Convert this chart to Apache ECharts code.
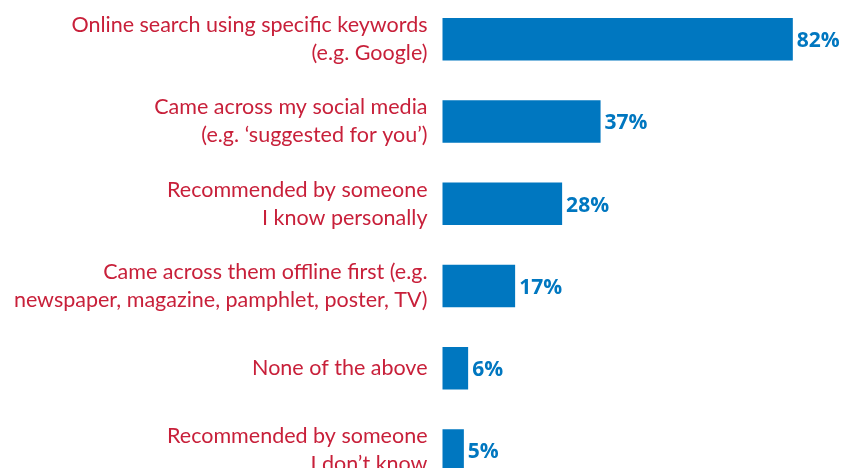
<!DOCTYPE html>
<html>
<head>
<meta charset="utf-8">
<script src="https://cdn.jsdelivr.net/npm/echarts@6/dist/echarts.min.js"></script>
<style>
  html, body { margin: 0; padding: 0; background: #ffffff; }
  #chart { width: 843px; height: 468px; }
</style>
</head>
<body>
<div id="chart"></div>
<script>
// How people found them: share of respondents per source (%)
const categories = [
  'Online search using specific keywords\n(e.g. Google)',
  'Came across my social media\n(e.g. \u2018suggested for you\u2019)',
  'Recommended by someone\nI know personally',
  'Came across them offline first (e.g.\nnewspaper, magazine, pamphlet, poster, TV)',
  'None of the above',
  'Recommended by someone\nI don\u2019t know'
];
const shares = [82, 37, 28, 17, 6, 5];

const chart = echarts.init(document.getElementById('chart'), null, { renderer: 'canvas' });

chart.setOption({
  animation: false,
  backgroundColor: '#ffffff',
  grid: {
    left: 442.5, right: 16, top: -2, bottom: -23.5,
    containLabel: false,
    outerBoundsMode: 'none'
  },
  xAxis: {
    type: 'value',
    min: 0,
    max: 90,
    show: false
  },
  yAxis: {
    type: 'category',
    inverse: true,
    data: categories,
    axisLine: { show: false },
    axisTick: { show: false },
    axisLabel: {
      margin: 15,
      color: '#c8203a',
      fontFamily: 'Lato',
      fontSize: 21.5,
      lineHeight: 28,
      align: 'right'
    }
  },
  series: [{
    type: 'bar',
    data: shares,
    barWidth: 42.5,
    itemStyle: { color: '#0077c0' },
    label: {
      show: true,
      position: 'right',
      distance: 4,
      offset: [0, 2],
      formatter: '{c}%',
      color: '#0077c0',
      fontFamily: 'Open Sans',
      fontWeight: 'bold',
      fontSize: 21
    }
  }]
});
</script>
</body>
</html>
